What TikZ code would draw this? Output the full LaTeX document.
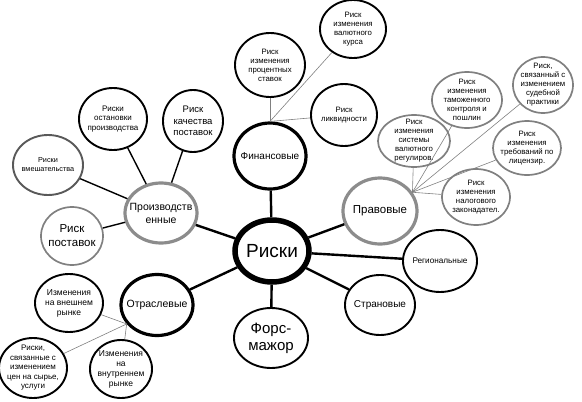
\documentclass[tikz,border=0pt]{standalone}
\usepackage{fontspec}
\setmainfont{Liberation Sans}
\usetikzlibrary{shapes.geometric}
\tikzset{
  bub/.style={ellipse, draw, fill=white, inner xsep=-14pt, inner ysep=-12pt, align=center},
  hubst/.style={bub, line width=5.5pt},
  catb/.style={bub, line width=3.2pt},
  catg/.style={bub, line width=3.2pt, draw=black!45},
  leafb/.style={bub, line width=1.9pt},
  leafdg/.style={bub, line width=1.9pt, draw=black!65},
  leafg/.style={bub, line width=1.7pt, draw=black!50},
  mainln/.style={line width=2.4pt},
  subln/.style={line width=1.4pt},
  thinln/.style={line width=0.6pt, draw=black!50},
}
\begin{document}
\begin{tikzpicture}[x=1pt,y=-1pt]
\useasboundingbox (0,0) rectangle (582,402);
% centre
\node[hubst, minimum width=74pt, minimum height=62pt, font={\fontsize{19}{22}\selectfont}] (hub) at (272,251) {Риски};
% financial
\node[catb, minimum width=72pt, minimum height=66pt, font={\fontsize{10}{12}\selectfont}] (fin) at (270,156) {Финансовые};
\node[leafb, minimum width=70pt, minimum height=64pt, font={\fontsize{7.8}{9}\selectfont}] (proc) at (270,65) {Риск\\изменения\\процентных\\ставок};
\node[leafb, minimum width=66pt, minimum height=58pt, font={\fontsize{7.8}{9}\selectfont}] (val) at (353,29) {Риск\\изменения\\валютного\\курса};
\node[leafb, minimum width=66pt, minimum height=62pt, font={\fontsize{7.8}{9}\selectfont}] (liq) at (344,115) {Риск\\ликвидности};
% production
\node[catg, minimum width=72pt, minimum height=60pt, font={\fontsize{10.5}{13}\selectfont}] (prod) at (161,213) {Производств\\енные};
\node[leafdg, minimum width=70pt, minimum height=60pt, font={\fontsize{7.3}{9}\selectfont}] (vm) at (48,165) {Риски\\вмешательства};
\node[leafb, minimum width=68pt, minimum height=62pt, font={\fontsize{8}{9.5}\selectfont}] (ost) at (113,119) {Риски\\остановки\\производства};
\node[leafb, minimum width=60pt, minimum height=62pt, font={\fontsize{9.5}{11.5}\selectfont}] (kach) at (193,121) {Риск\\качества\\поставок};
\node[leafg, minimum width=62pt, minimum height=58pt, font={\fontsize{11.5}{14}\selectfont}] (post) at (72,236) {Риск\\поставок};
% branch
\node[catb, minimum width=72pt, minimum height=61pt, font={\fontsize{10.5}{13}\selectfont}] (otr) at (157,305) {Отраслевые};
\node[leafb, minimum width=68pt, minimum height=58pt, font={\fontsize{8.5}{10}\selectfont}] (vne) at (69,303) {Изменения\\на внешнем\\рынке};
\node[leafb, minimum width=68pt, minimum height=60pt, font={\fontsize{8}{9.5}\selectfont}] (syr) at (33,368) {Риски,\\связанные с\\изменением\\цен на сырье,\\услуги};
\node[leafb, minimum width=62pt, minimum height=58pt, font={\fontsize{8.5}{10}\selectfont}] (vnu) at (121,369) {Изменения\\на\\внутреннем\\рынке};
% legal
\node[catg, minimum width=74pt, minimum height=66pt, font={\fontsize{11.5}{13}\selectfont}] (prav) at (380,211) {Правовые};
\node[leafg, minimum width=72pt, minimum height=52pt, font={\fontsize{7.8}{9}\selectfont}] (sist) at (414,141) {Риск\\изменения\\системы\\валютного\\регулиров.};
\node[leafg, minimum width=70pt, minimum height=56pt, font={\fontsize{7.8}{9}\selectfont}] (tam) at (467,100) {Риск\\изменения\\таможенного\\контроля и\\пошлин};
\node[leafg, minimum width=60pt, minimum height=56pt, font={\fontsize{7.8}{9}\selectfont}] (sud) at (543,85) {Риск,\\связанный с\\изменением\\судебной\\практики};
\node[leafg, minimum width=68pt, minimum height=54pt, font={\fontsize{7.8}{9}\selectfont}] (lic) at (527,148) {Риск\\изменения\\требований по\\лицензир.};
\node[leafg, minimum width=68pt, minimum height=56pt, font={\fontsize{7.8}{9}\selectfont}] (nal) at (476,197) {Риск\\изменения\\налогового\\законадател.};
% others
\node[leafb, minimum width=74pt, minimum height=62pt, font={\fontsize{8.2}{9}\selectfont}] (reg) at (440,261) {Региональные};
\node[leafb, minimum width=70pt, minimum height=60pt, font={\fontsize{10}{12}\selectfont}] (str) at (380,305) {Страновые};
\node[leafb, minimum width=74pt, minimum height=60pt, font={\fontsize{15}{17}\selectfont}] (fm) at (271,338) {Форс-\\мажор};
% main connectors
\draw[mainln] (hub) -- (fin);
\draw[mainln] (hub) -- (fm);
\draw[mainln] (hub) -- (prav);
\draw[mainln] (hub) -- (reg);
\draw[mainln] (hub) -- (str);
\draw[mainln] (hub) -- (otr);
\draw[mainln] (hub) -- (prod);
% production
\draw[subln] (prod) -- (vm);
\draw[subln] (prod) -- (ost);
\draw[subln] (prod) -- (kach);
\draw[subln] (prod) -- (post);
% financial
\draw[thinln] (fin.north) -- (proc);
\draw[thinln] (fin.north) -- (val);
\draw[thinln] (fin.north) -- (liq);
% legal
\coordinate (pj) at (prav.30);
\draw[thinln] (pj) -- (sist);
\draw[thinln] (pj) -- (tam);
\draw[thinln] (pj) -- (sud);
\draw[thinln] (pj) -- (lic);
\draw[thinln] (pj) -- (nal);
% branch
\coordinate (oj) at (otr.212);
\draw[thinln] (oj) -- (vne);
\draw[thinln] (oj) -- (syr);
\draw[thinln] (oj) -- (vnu);
\end{tikzpicture}
\end{document}
